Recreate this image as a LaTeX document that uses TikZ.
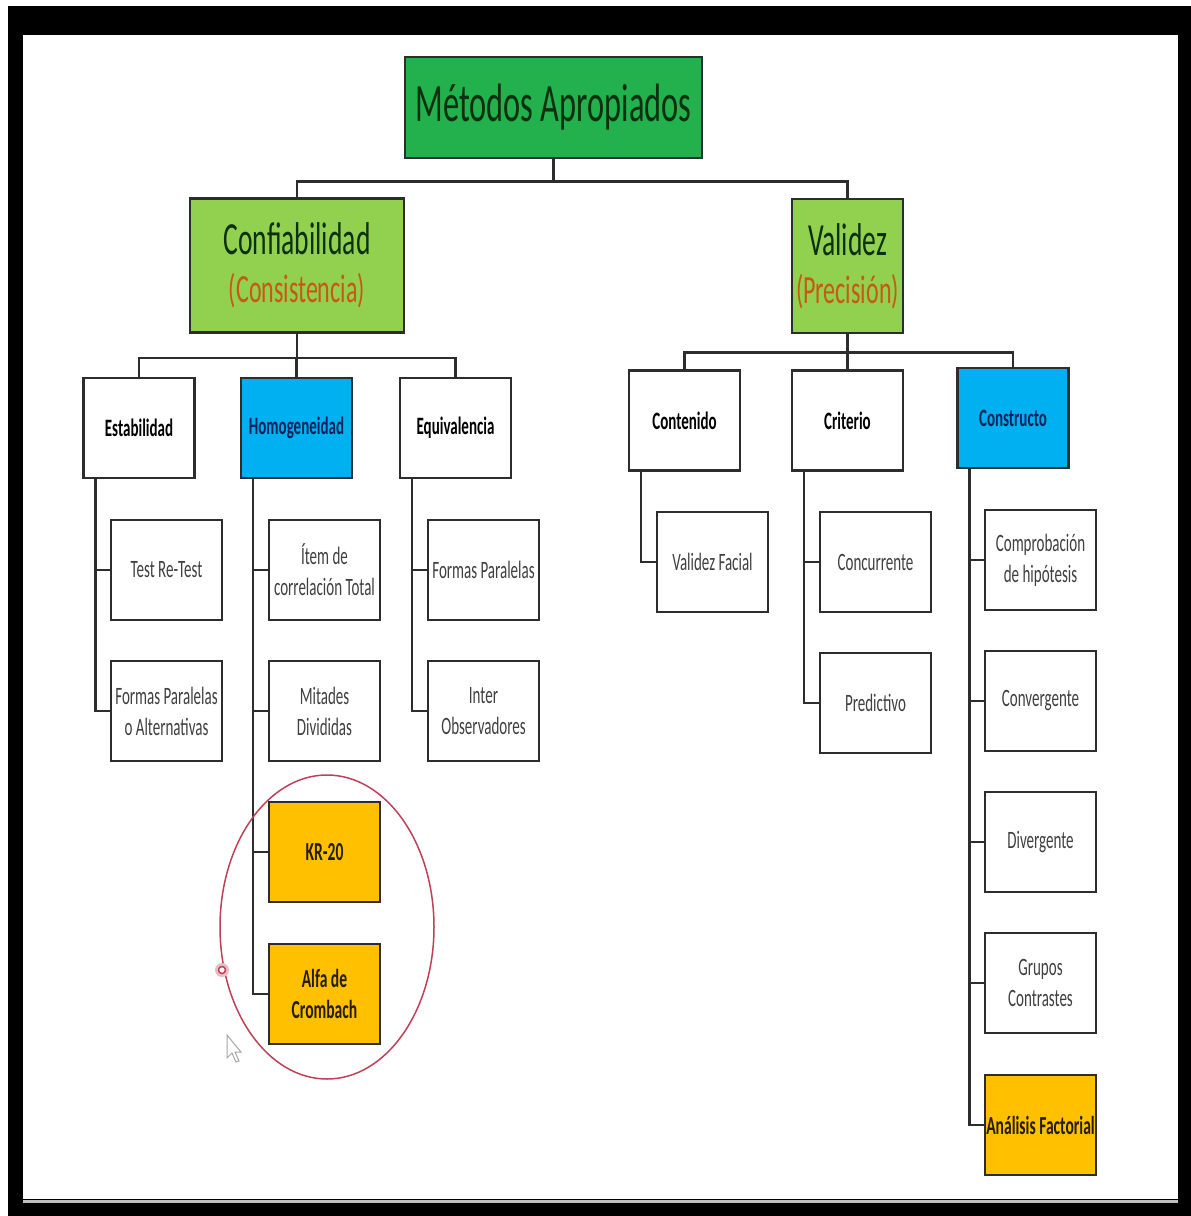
\documentclass[tikz,border=0pt]{standalone}
\usepackage{fontspec}
\setmainfont{Carlito}[FakeStretch=0.6]
\usetikzlibrary{shapes.geometric}

\definecolor{verdeT}{RGB}{34,177,76}
\definecolor{lima}{RGB}{146,208,80}
\definecolor{celeste}{RGB}{0,176,240}
\definecolor{ambar}{RGB}{255,192,0}
\definecolor{ocre}{RGB}{197,90,17}
\definecolor{tinta}{RGB}{12,48,16}
\definecolor{marino}{RGB}{10,36,90}
\definecolor{gris}{RGB}{64,64,64}
\definecolor{borde}{RGB}{45,45,45}
\definecolor{marca}{RGB}{192,64,88}

\tikzset{
  caja/.style={draw=borde, line width=2.5pt, rectangle, inner sep=0pt, align=center},
  raiz/.style={caja, fill=verdeT, minimum width=297pt, minimum height=101pt, text=tinta, font=\fontsize{54}{60}\selectfont},
  rama/.style={caja, fill=lima, minimum height=134pt, text=tinta, font=\fontsize{40}{48}\selectfont},
  grupo/.style={caja, fill=white, minimum width=111pt, minimum height=100pt, font=\bfseries\fontsize{25}{31}\selectfont},
  hoja/.style={caja, fill=white, minimum width=111pt, minimum height=100pt, text=gris, font=\fontsize{25}{31}\selectfont},
  clave/.style={hoja, fill=ambar, text=black!85!ambar, font=\bfseries\fontsize{26}{31}\selectfont},
  enlace/.style={draw=borde, line width=2.5pt},
}

\begin{document}
\begin{tikzpicture}[x=1pt, y=-1pt]
  % marco de la captura
  \useasboundingbox (0,0) rectangle (1191,1216);
  \fill[black] (8,6) rectangle (1191,1216);
  \fill[white] (23,35) rectangle (1178,1199);
  \draw[gray!50, line width=3pt] (23,1201) -- (1178,1201);

  % nivel 0
  \node[raiz] (metodos) at (553.5,107.5) {Métodos Apropiados};

  % nivel 1
  \node[rama, minimum width=214pt] (confi) at (297,265.5) {{\fontsize{46}{48}\selectfont Confiabilidad}\\\color{ocre}(Consistencia)};
  \node[rama, minimum width=111pt] (valid) at (847.5,266) {{\fontsize{46}{48}\selectfont Validez}\\\color{ocre}(Precisión)};

  % nivel 2
  \node[grupo] (estab) at (139,428) {Estabilidad};
  \node[grupo, fill=celeste, text=marino] (homog) at (296.5,428) {Homogeneidad};
  \node[grupo] (equiv) at (455.5,428) {Equivalencia};
  \node[grupo] (conte) at (684.5,420.5) {Contenido};
  \node[grupo] (crite) at (847.5,420.5) {Criterio};
  \node[grupo, fill=celeste, text=marino] (const) at (1013,418) {Constructo};

  % hojas
  \node[hoja] (retest) at (166.5,570) {Test Re-Test};
  \node[hoja] (altern) at (166.5,711) {Formas Paralelas\\o Alternativas};
  \node[hoja] (item) at (324.5,570) {Ítem de\\correlación Total};
  \node[hoja] (mitad) at (324.5,711) {Mitades\\Divididas};
  \node[clave] (kr) at (324.5,852) {KR-20};
  \node[clave] (alfa) at (324.5,994) {Alfa de\\Crombach};
  \node[hoja] (parale) at (483.5,570) {Formas Paralelas};
  \node[hoja] (inter) at (483.5,711) {Inter\\Observadores};
  \node[hoja] (facial) at (712.5,562) {Validez Facial};
  \node[hoja] (concu) at (875.5,562) {Concurrente};
  \node[hoja] (predi) at (875.5,703) {Predictivo};
  \node[hoja] (hipot) at (1040.5,560) {Comprobación\\de hipótesis};
  \node[hoja] (conve) at (1040.5,701) {Convergente};
  \node[hoja] (diver) at (1040.5,842) {Divergente};
  \node[hoja] (grupos) at (1040.5,983) {Grupos\\Contrastes};
  \node[clave] (factor) at (1040.5,1125) {Análisis Factorial};

  % conectores
  \draw[enlace] (metodos.south) -- ++(0,22) -| (confi.north);
  \draw[enlace] (metodos.south) -- ++(0,22) -| (valid.north);
  \foreach \h in {estab,homog,equiv}
    \draw[enlace] (confi.south) -- ++(0,24) -| (\h.north);
  \foreach \h in {conte,crite,const}
    \draw[enlace] (valid.south) -- ++(0,18) -| (\h.north);
  \foreach \p/\h in {estab/retest, estab/altern, homog/item, homog/mitad, homog/kr, homog/alfa,
                     equiv/parale, equiv/inter, conte/facial, crite/concu, crite/predi,
                     const/hipot, const/conve, const/diver, const/grupos, const/factor}
    \draw[enlace] ([xshift=13pt]\p.south west) |- (\h.west);

  % resaltado y puntero
  \node[ellipse, draw=marca, line width=1.5pt, minimum width=214pt, minimum height=304pt] (resalte) at (327,927) {};
  \fill[marca!35] (222,970) circle[radius=7pt];
  \draw[marca, line width=1.5pt, fill=white] (222,970) circle[radius=3.5pt];
  \draw[gray!70, line width=1pt, fill=white] (227,1035) -- (227,1058) -- (232,1053) -- (236,1062)
    -- (239,1061) -- (235,1052) -- (241,1052) -- cycle;
\end{tikzpicture}
\end{document}
